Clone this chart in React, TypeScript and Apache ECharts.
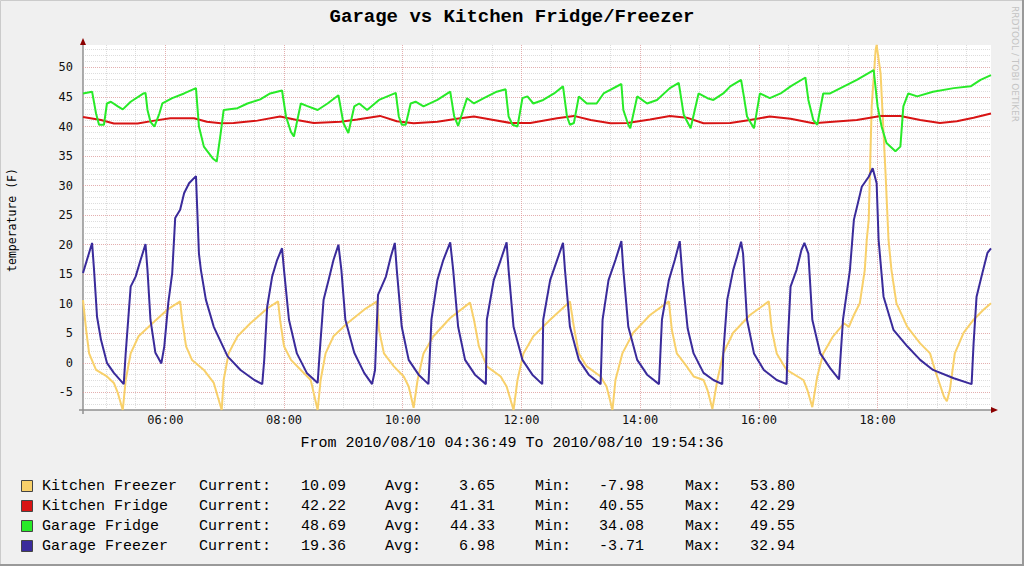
import { useEffect, useRef } from "react";
import * as echarts from "echarts";

const TITLE = "Garage vs Kitchen Fridge/Freezer";
const Y_TITLE = "temperature (F)";
const RANGE_TEXT = "From 2010/08/10 04:36:49 To 2010/08/10 19:54:36";
const WATERMARK = "RRDTOOL / TOBI OETIKER";
const START = "04:36:49";
const END = "19:54:36";
const Y_MIN = -7.98;
const Y_MAX = 53.8;

const seriesNames = ["Kitchen Freezer", "Kitchen Fridge", "Garage Fridge", "Garage Freezer"];
const seriesColors = ["#F8D06A", "#D81414", "#28EA28", "#3A2B9B"];
const currentVals = [10.09, 42.22, 48.69, 19.36];
const avgVals = [3.65, 41.31, 44.33, 6.98];
const minVals = [-7.98, 40.55, 34.08, -3.71];
const maxVals = [53.8, 42.29, 49.55, 32.94];

const kitchenFreezer: [string, number][] = [
  ["04:36:49", 10.6], ["04:40", 5.6], ["04:43", 1.6], ["04:50", -1.2], ["05:01", -2.3], ["05:08", -3.4],
  ["05:12", -5.1], ["05:17", -7.98], ["05:20", -2.9], ["05:25", 1.6], ["05:33", 4.5], ["05:47", 6.7],
  ["06:02", 9.0], ["06:15", 10.4], ["06:17", 7.3], ["06:21", 2.8], ["06:27", 0.5], ["06:39", -1.2],
  ["06:49", -3.4], ["06:53", -5.7], ["06:57", -7.98], ["06:59", -2.9], ["07:04", 1.6], ["07:13", 4.5],
  ["07:26", 6.7], ["07:43", 9.2], ["07:54", 10.4], ["07:56", 7.3], ["08:00", 2.8], ["08:07", 0.5],
  ["08:17", -1.2], ["08:27", -2.9], ["08:30", -5.1], ["08:34", -7.98], ["08:37", -2.9], ["08:42", 1.6],
  ["08:50", 4.5], ["09:04", 6.7], ["09:21", 9.0], ["09:34", 10.4], ["09:36", 5.6], ["09:41", 1.6],
  ["09:51", -0.6], ["10:01", -2.3], ["10:06", -4.0], ["10:11", -7.6], ["10:15", -2.9], ["10:21", 1.6],
  ["10:31", 4.5], ["10:48", 7.6], ["11:08", 10.2], ["11:12", 7.3], ["11:17", 2.8], ["11:25", -0.6],
  ["11:39", -2.3], ["11:45", -4.0], ["11:52", -7.98], ["11:56", -2.9], ["12:02", 1.6], ["12:12", 4.5],
  ["12:29", 7.3], ["12:49", 10.4], ["12:53", 6.1], ["12:58", 1.6], ["13:06", -0.6], ["13:20", -2.3],
  ["13:26", -4.0], ["13:32", -7.98], ["13:35", -2.9], ["13:42", 1.6], ["13:53", 5.1], ["14:10", 8.1],
  ["14:29", 10.4], ["14:32", 5.6], ["14:37", 1.6], ["14:47", -0.6], ["14:54", -2.3], ["15:04", -2.9],
  ["15:08", -4.6], ["15:13", -7.8], ["15:18", -2.9], ["15:24", 1.6], ["15:34", 5.1], ["15:51", 8.1],
  ["16:10", 10.4], ["16:13", 5.6], ["16:18", 1.6], ["16:28", -1.2], ["16:45", -2.9], ["16:49", -4.6],
  ["16:54", -7.5], ["16:59", -2.3], ["17:05", 1.6], ["17:15", 4.5], ["17:26", 6.7], ["17:31", 6.1],
  ["17:36", 8.1], ["17:42", 10.1], ["17:47", 15.7], ["17:49", 20.8], ["17:51", 24.2], ["17:54", 43.4],
  ["17:58", 53.0], ["17:59", 53.8], ["18:03", 49.0], ["18:08", 32.1], ["18:11", 20.8], ["18:14", 15.7],
  ["18:19", 10.1], ["18:30", 6.1], ["18:43", 3.3], ["18:53", 1.6], ["18:58", -1.2], ["19:07", -5.7],
  ["19:10", -6.5], ["19:13", -4.6], ["19:18", 1.6], ["19:27", 5.1], ["19:37", 7.3], ["19:47", 9.0],
  ["19:54:36", 10.09],
];

const kitchenFridge: [string, number][] = [
  ["04:36:49", 41.6], ["04:55", 41.1], ["05:08", 40.5], ["05:32", 40.5], ["05:49", 41.0], ["06:05", 41.4],
  ["06:29", 41.4], ["06:42", 40.8], ["06:56", 40.55], ["07:09", 40.6], ["07:33", 41.0], ["07:56", 41.7],
  ["08:13", 41.1], ["08:30", 40.6], ["08:57", 40.8], ["09:14", 41.2], ["09:37", 41.8], ["09:54", 40.9],
  ["10:11", 40.55], ["10:35", 40.8], ["10:58", 41.4], ["11:12", 41.7], ["11:29", 41.2], ["11:49", 40.6],
  ["12:09", 40.6], ["12:36", 41.4], ["12:53", 41.8], ["13:10", 41.1], ["13:30", 40.55], ["13:47", 40.6],
  ["14:10", 41.2], ["14:30", 41.8], ["14:47", 41.5], ["15:04", 40.55], ["15:31", 40.6], ["15:51", 41.1],
  ["16:11", 41.7], ["16:32", 41.3], ["16:55", 40.55], ["17:15", 40.8], ["17:39", 41.1], ["18:03", 41.8],
  ["18:23", 41.8], ["18:43", 41.1], ["19:03", 40.6], ["19:20", 40.9], ["19:37", 41.5], ["19:54:36", 42.22],
];

const garageFridge: [string, number][] = [
  ["04:36:49", 45.6], ["04:46", 45.9], ["04:50", 42.2], ["04:53", 40.3], ["04:58", 40.3], ["05:01", 43.9],
  ["05:05", 44.2], ["05:12", 43.4], ["05:17", 42.9], ["05:25", 44.2], ["05:38", 45.6], ["05:40", 45.7],
  ["05:42", 42.8], ["05:45", 40.8], ["05:49", 40.0], ["05:54", 42.2], ["05:57", 43.9], ["06:07", 44.8],
  ["06:19", 45.6], ["06:31", 46.5], ["06:34", 40.0], ["06:39", 36.6], ["06:48", 34.6], ["06:52", 34.08],
  ["06:56", 38.9], ["06:59", 42.8], ["07:13", 43.1], ["07:23", 43.9], ["07:36", 44.6], ["07:46", 45.6],
  ["07:58", 46.1], ["08:02", 41.7], ["08:07", 39.1], ["08:10", 38.3], ["08:17", 43.9], ["08:23", 43.5],
  ["08:34", 42.8], ["08:44", 43.9], ["08:55", 45.3], ["09:00", 40.6], ["09:05", 38.9], ["09:11", 43.4],
  ["09:16", 43.9], ["09:24", 42.8], ["09:36", 44.5], ["09:53", 45.7], ["09:56", 41.7], ["09:59", 40.3],
  ["10:03", 40.3], ["10:08", 43.9], ["10:13", 44.2], ["10:21", 43.4], ["10:35", 44.5], ["10:48", 45.9],
  ["10:52", 41.7], ["10:56", 40.1], ["11:00", 42.2], ["11:05", 44.8], ["11:12", 43.9], ["11:22", 44.8],
  ["11:35", 45.9], ["11:44", 46.3], ["11:47", 41.7], ["11:51", 40.3], ["11:56", 40.0], ["12:01", 44.8],
  ["12:06", 45.1], ["12:12", 43.9], ["12:22", 44.5], ["12:33", 45.6], ["12:42", 46.8], ["12:46", 41.7],
  ["12:49", 40.3], ["12:53", 40.6], ["12:58", 45.1], ["13:06", 43.9], ["13:16", 43.9], ["13:23", 45.6],
  ["13:41", 47.2], ["13:43", 42.8], ["13:48", 40.3], ["13:50", 39.7], ["13:57", 45.1], ["14:07", 43.9],
  ["14:17", 44.5], ["14:30", 46.5], ["14:39", 47.4], ["14:44", 42.0], ["14:51", 39.7], ["14:59", 45.6],
  ["15:08", 44.8], ["15:14", 44.5], ["15:24", 45.6], ["15:31", 46.8], ["15:42", 47.9], ["15:45", 44.9],
  ["15:48", 41.7], ["15:55", 39.7], ["16:01", 45.6], ["16:11", 44.8], ["16:22", 45.6], ["16:32", 46.8],
  ["16:47", 48.3], ["16:50", 44.5], ["16:55", 41.1], ["16:59", 40.3], ["17:05", 45.6], ["17:12", 45.6],
  ["17:26", 46.8], ["17:39", 47.9], ["17:56", 49.55], ["18:00", 43.4], ["18:04", 40.0], ["18:09", 37.2],
  ["18:18", 35.8], ["18:23", 36.6], ["18:26", 43.4], ["18:31", 45.6], ["18:40", 45.1], ["18:56", 45.9],
  ["19:17", 46.5], ["19:34", 46.8], ["19:44", 47.9], ["19:54:36", 48.69],
];

const garageFreezer: [string, number][] = [
  ["04:36:49", 15.2], ["04:46", 20.3], ["04:48", 15.7], ["04:51", 7.8], ["04:55", 3.9], ["05:01", 0.0],
  ["05:08", -1.7], ["05:18", -3.6], ["05:20", 1.7], ["05:25", 12.9], ["05:30", 14.6], ["05:35", 17.4],
  ["05:40", 20.1], ["05:42", 15.7], ["05:45", 7.3], ["05:50", 1.7], ["05:56", -0.1], ["05:59", 2.8],
  ["06:03", 10.1], ["06:07", 15.2], ["06:10", 24.5], ["06:15", 25.9], ["06:19", 28.7], ["06:24", 30.4],
  ["06:31", 31.6], ["06:34", 18.5], ["06:36", 15.7], ["06:41", 10.7], ["06:49", 6.1], ["07:03", 1.1],
  ["07:16", -1.2], ["07:30", -2.9], ["07:38", -3.6], ["07:40", 0.5], ["07:43", 9.5], ["07:48", 14.6],
  ["07:53", 17.4], ["07:58", 19.4], ["08:00", 15.7], ["08:05", 7.3], ["08:13", 1.6], ["08:23", -1.7],
  ["08:34", -3.4], ["08:36", 1.6], ["08:40", 10.7], ["08:45", 14.0], ["08:50", 17.4], ["08:55", 20.0],
  ["08:58", 15.7], ["09:02", 7.3], ["09:11", 1.7], ["09:21", -1.7], ["09:29", -3.6], ["09:32", -1.2],
  ["09:35", 11.5], ["09:43", 14.6], ["09:48", 18.0], ["09:52", 20.3], ["09:54", 15.7], ["09:59", 6.1],
  ["10:06", 0.5], ["10:16", -2.0], ["10:26", -3.6], ["10:29", 7.3], ["10:35", 14.0], ["10:41", 17.4],
  ["10:48", 20.4], ["10:51", 15.7], ["10:56", 6.1], ["11:03", 0.5], ["11:13", -2.0], ["11:24", -3.6],
  ["11:25", 7.3], ["11:32", 14.0], ["11:39", 17.4], ["11:45", 20.4], ["11:47", 15.7], ["11:52", 6.1],
  ["12:01", 0.5], ["12:11", -2.0], ["12:21", -3.6], ["12:22", 7.3], ["12:29", 14.0], ["12:36", 17.4],
  ["12:42", 20.3], ["12:44", 15.7], ["12:49", 6.1], ["12:58", 0.5], ["13:08", -2.0], ["13:20", -3.6],
  ["13:22", 7.3], ["13:28", 14.0], ["13:35", 17.4], ["13:41", 20.6], ["13:43", 15.7], ["13:48", 6.1],
  ["13:57", 0.5], ["14:07", -2.0], ["14:19", -3.6], ["14:22", 7.3], ["14:29", 14.0], ["14:35", 17.4],
  ["14:40", 20.6], ["14:43", 14.0], ["14:48", 5.8], ["14:54", 1.6], ["15:04", -1.7], ["15:14", -2.9],
  ["15:23", -3.6], ["15:24", 1.6], ["15:28", 10.7], ["15:34", 15.7], ["15:38", 18.0], ["15:42", 20.5],
  ["15:44", 18.5], ["15:48", 7.3], ["15:55", 1.6], ["16:05", -1.2], ["16:18", -2.9], ["16:28", -3.6],
  ["16:29", 2.8], ["16:32", 12.9], ["16:38", 15.7], ["16:43", 19.1], ["16:46", 20.3], ["16:50", 18.5],
  ["16:54", 7.3], ["17:02", 1.6], ["17:12", -0.9], ["17:21", -2.8], ["17:25", 7.3], ["17:32", 15.7],
  ["17:36", 24.2], ["17:44", 29.8], ["17:51", 31.5], ["17:55", 32.94], ["17:59", 30.4], ["18:01", 20.8],
  ["18:06", 11.2], ["18:16", 5.6], ["18:30", 2.8], ["18:43", 0.5], ["18:56", -1.2], ["19:17", -2.6],
  ["19:35", -3.6], ["19:37", 3.3], ["19:40", 11.2], ["19:45", 14.6], ["19:51", 18.6], ["19:54:36", 19.36],
];

const seriesData = [kitchenFreezer, kitchenFridge, garageFridge, garageFreezer];

function toMin(t: string): number {
  const parts = t.split(":").map(Number);
  return parts[0] * 60 + parts[1] + (parts[2] || 0) / 60;
}

function fmtClock(v: number): string {
  const m = Math.round(v);
  const h = Math.floor(m / 60);
  const mm = m % 60;
  return String(h).padStart(2, "0") + ":" + String(mm).padStart(2, "0");
}

const MINOR = "rgba(180,180,180,0.45)";
const MAJOR = "rgba(235,130,130,0.5)";
const MONO = '"Liberation Mono", "DejaVu Sans Mono", monospace';
const SANSMONO = '"DejaVu Sans Mono", monospace';

export default function App() {
  const ref = useRef<HTMLDivElement>(null);

  useEffect(() => {
    document.body.style.margin = "0";
    if (!ref.current) return;
    const chart = echarts.init(ref.current, null, { renderer: "svg" });
    const xMin = toMin(START);
    const xMax = toMin(END);

    const legendRows = [486, 506, 526, 546];
    const graphic: any[] = [
      { type: "rect", shape: { x: 0.5, y: 0.5, width: 1023, height: 565 }, style: { fill: "none", stroke: "#CBCBCB", lineWidth: 1 } },
      { type: "line", shape: { x1: 1023, y1: 0, x2: 1023, y2: 566 }, style: { stroke: "#999", lineWidth: 2 } },
      { type: "line", shape: { x1: 0, y1: 565, x2: 1024, y2: 565 }, style: { stroke: "#999", lineWidth: 2 } },
      { type: "text", x: 512, y: 17, style: { text: TITLE, font: 'bold 19px ' + MONO, fill: "#000", align: "center", verticalAlign: "middle" } },
      { type: "text", x: 12, y: 220, rotation: Math.PI / 2, style: { text: Y_TITLE, font: '11.5px ' + SANSMONO, fill: "#000", align: "center", verticalAlign: "middle" } },
      { type: "text", x: 512, y: 443, style: { text: RANGE_TEXT, font: '15px ' + MONO, fill: "#000", align: "center", verticalAlign: "middle" } },
      { type: "text", x: 1015, y: 6, rotation: -Math.PI / 2, style: { text: WATERMARK, font: '9px "DejaVu Sans"', fill: "#C4C4C4", align: "left", verticalAlign: "middle" } },
      { type: "line", shape: { x1: 83, y1: 44, x2: 83, y2: 414 }, style: { stroke: "#909090", lineWidth: 1.5 } },
      { type: "line", shape: { x1: 79, y1: 410, x2: 992, y2: 410 }, style: { stroke: "#909090", lineWidth: 1.5 } },
      { type: "polygon", shape: { points: [[83, 38], [80, 45], [86, 45]] }, style: { fill: "#8B0000" } },
      { type: "polygon", shape: { points: [[998, 410], [991, 407], [991, 413]] }, style: { fill: "#8B0000" } },
    ];
    const f2 = (v: number) => v.toFixed(2);
    seriesNames.forEach((name, i) => {
      const y = legendRows[i];
      graphic.push(
        { type: "rect", shape: { x: 21.5, y: y - 5.5, width: 11, height: 11 }, style: { fill: seriesColors[i], stroke: "#444", lineWidth: 1 } },
        { type: "text", x: 42, y, style: { text: name, font: '15px ' + MONO, fill: "#000", align: "left", verticalAlign: "middle" } },
        { type: "text", x: 199, y, style: { text: "Current:", font: '15px ' + MONO, fill: "#000", align: "left", verticalAlign: "middle" } },
        { type: "text", x: 346, y, style: { text: f2(currentVals[i]), font: '15px ' + MONO, fill: "#000", align: "right", verticalAlign: "middle" } },
        { type: "text", x: 385, y, style: { text: "Avg:", font: '15px ' + MONO, fill: "#000", align: "left", verticalAlign: "middle" } },
        { type: "text", x: 495, y, style: { text: f2(avgVals[i]), font: '15px ' + MONO, fill: "#000", align: "right", verticalAlign: "middle" } },
        { type: "text", x: 535, y, style: { text: "Min:", font: '15px ' + MONO, fill: "#000", align: "left", verticalAlign: "middle" } },
        { type: "text", x: 644, y, style: { text: f2(minVals[i]), font: '15px ' + MONO, fill: "#000", align: "right", verticalAlign: "middle" } },
        { type: "text", x: 685, y, style: { text: "Max:", font: '15px ' + MONO, fill: "#000", align: "left", verticalAlign: "middle" } },
        { type: "text", x: 795, y, style: { text: f2(maxVals[i]), font: '15px ' + MONO, fill: "#000", align: "right", verticalAlign: "middle" } },
      );
    });

    const hidden = { axisLine: { show: false }, axisTick: { show: false } };
    chart.setOption({
      animation: false,
      backgroundColor: "#F0F0F0",
      grid: { left: 83, right: 33, top: 45, bottom: 156, show: true, backgroundColor: "#FFFFFF", borderWidth: 0 },
      xAxis: [
        {
          type: "value", position: "bottom", min: xMin, max: xMax, minInterval: 120, maxInterval: 120, ...hidden,
          axisLabel: {
            show: true, interval: 0, showMinLabel: false, showMaxLabel: false, margin: 4,
            fontFamily: SANSMONO, fontSize: 12, color: "#111",
            formatter: (v: number) => (Math.round(v) % 120 === 0 ? fmtClock(v) : ""),
          },
          splitLine: { show: true, showMinLine: false, showMaxLine: false, lineStyle: { color: MAJOR, width: 1, type: [1, 1] } },
          z: 1,
        },
        {
          type: "value", position: "top", min: xMin, max: xMax, minInterval: 30, maxInterval: 30, ...hidden,
          axisLabel: { show: false },
          splitLine: { show: true, showMinLine: false, showMaxLine: false, lineStyle: { color: MINOR, width: 1, type: [1, 1] } },
          z: 0,
        },
      ],
      yAxis: [
        {
          type: "value", position: "left", min: Y_MIN, max: Y_MAX, minInterval: 5, maxInterval: 5, ...hidden,
          axisLabel: {
            show: true, interval: 0, showMinLabel: false, showMaxLabel: false, margin: 10,
            fontFamily: SANSMONO, fontSize: 12, color: "#111",
            formatter: (v: number) => (Math.abs(Math.round(v) - v) < 1e-6 && Math.round(v) % 5 === 0 ? String(Math.round(v)) : ""),
          },
          splitLine: { show: true, showMinLine: false, showMaxLine: false, lineStyle: { color: MAJOR, width: 1, type: [1, 1] } },
          z: 1,
        },
        {
          type: "value", position: "right", min: Y_MIN, max: Y_MAX, minInterval: 1, maxInterval: 1, ...hidden,
          axisLabel: { show: false },
          splitLine: { show: true, showMinLine: false, showMaxLine: false, lineStyle: { color: MINOR, width: 1, type: [1, 1] } },
          z: 0,
        },
      ],
      series: seriesNames.map((name, i) => ({
        name,
        type: "line",
        xAxisIndex: 0,
        yAxisIndex: 0,
        data: seriesData[i].map(([t, v]) => [toMin(t), v]),
        showSymbol: false,
        symbol: "none",
        clip: true,
        lineStyle: { color: seriesColors[i], width: 2 },
        itemStyle: { color: seriesColors[i] },
        z: 2 + i,
      })),
      graphic,
    });
    return () => chart.dispose();
  }, []);

  return <div ref={ref} style={{ position: "absolute", left: 0, top: 0, width: 1024, height: 566 }} />;
}
